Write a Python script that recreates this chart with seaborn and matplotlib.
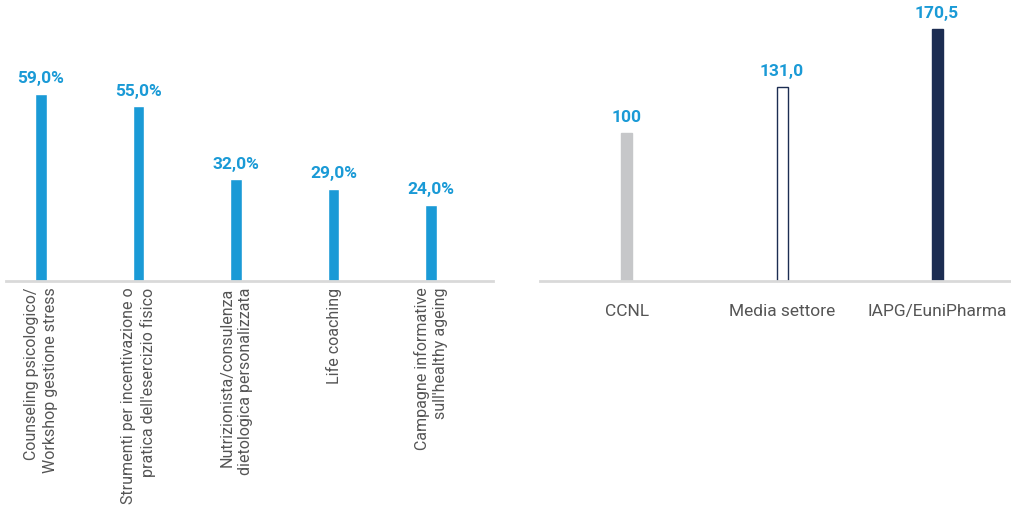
import matplotlib
matplotlib.use("Agg")
import matplotlib.pyplot as plt
import seaborn as sns
import pandas as pd

# Iniziative di welfare: quota di aziende che le offrono
iniziative = [
    "Counseling psicologico/\nWorkshop gestione stress",
    "Strumenti per incentivazione o\npratica dell'esercizio fisico",
    "Nutrizionista/consulenza\ndietologica personalizzata",
    "Life coaching",
    "Campagne informative\nsull'healthy ageing",
]
quote = [59.0, 55.0, 32.0, 29.0, 24.0]

# Indice retributivo (CCNL = 100)
confronti = ["CCNL", "Media settore", "IAPG/EuniPharma"]
indici = [100.0, 131.0, 170.5]
indici_label = ["100", "131,0", "170,5"]

BLUE = "#1a9ad6"
NAVY = "#1c2d52"
GREY = "#c6c7c9"
BASE = "#d9d9d9"
TEXT = "#555555"

sns.set_theme(style="white")
plt.rcParams["font.family"] = ["Roboto", "DejaVu Sans"]

fig = plt.figure(figsize=(10.11, 5.26), dpi=100)
W, H = 1011, 526
base_y = 280.5

# --- pannello sinistro ---
ax1 = fig.add_axes([6 / W, (H - base_y) / H, (493 - 6) / W, base_y / H])
df1 = pd.DataFrame({"cat": iniziative, "val": quote})
sns.barplot(data=df1, x="cat", y="val", color=BLUE, width=0.113,
            saturation=1, ax=ax1)
ax1.set_xlim(-0.359, 4.636)
ax1.set_ylim(0, base_y / 3.165)
for i, v in enumerate(quote):
    ax1.text(i, v + 2.3, f"{v:.1f}%".replace(".", ","), ha="center", va="bottom",
             color=BLUE, fontsize=12.5, fontweight="bold")
ax1.set_xticks(range(len(iniziative)))
ax1.set_xticklabels(iniziative, rotation=90, ha="center", va="top",
                    multialignment="right", fontsize=11.5, color=TEXT,
                    linespacing=1.3)
ax1.tick_params(axis="x", length=0, pad=5)

# --- pannello destro ---
ax2 = fig.add_axes([540 / W, (H - base_y) / H, (W - 540) / W, base_y / H])
df2 = pd.DataFrame({"cat": confronti, "val": indici})
sns.barplot(data=df2, x="cat", y="val", color=GREY, width=11 / 155,
            saturation=1, ax=ax2)
styles = [(GREY, GREY), ("white", NAVY), (NAVY, NAVY)]
for patch, (fc, ec) in zip(ax2.patches, styles):
    patch.set_facecolor(fc)
    patch.set_edgecolor(ec)
    patch.set_linewidth(1.0)
ax2.set_xlim(-0.561, 2.477)
ax2.set_ylim(0, base_y / 1.478)
for i, (v, lab) in enumerate(zip(indici, indici_label)):
    ax2.text(i, v + 5, lab, ha="center", va="bottom",
             color=BLUE, fontsize=12.5, fontweight="bold")
ax2.set_xticks(range(len(confronti)))
ax2.set_xticklabels(confronti, fontsize=12.5, color=TEXT)
ax2.tick_params(axis="x", length=0, pad=17)

for ax in (ax1, ax2):
    ax.set_xlabel("")
    ax.set_ylabel("")
    ax.set_yticks([])
    for s in ("top", "right", "left"):
        ax.spines[s].set_visible(False)
    ax.spines["bottom"].set_color(BASE)
    ax.spines["bottom"].set_linewidth(2)
    ax.patch.set_alpha(0)

fig.savefig("out.png", dpi=100)
